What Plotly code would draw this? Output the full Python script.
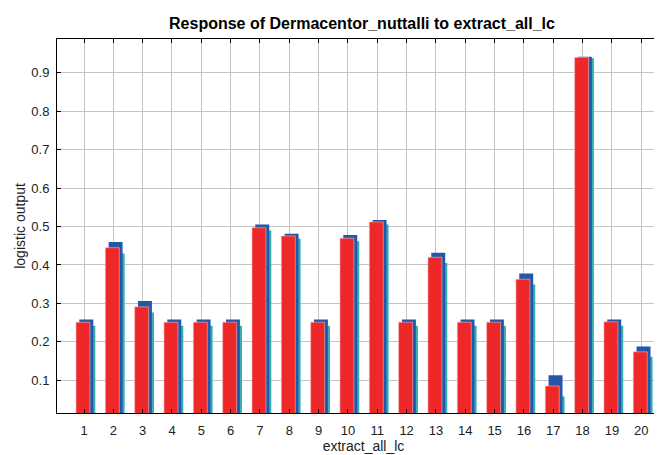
import plotly.graph_objects as go

categories = list(range(1, 21))
mean_vals = [0.251, 0.445, 0.291, 0.251, 0.251, 0.251, 0.497, 0.4755, 0.251, 0.4695,
             0.512, 0.251, 0.420, 0.251, 0.251, 0.363, 0.085, 0.940, 0.252, 0.174]
upper_vals = [0.258, 0.460, 0.306, 0.258, 0.258, 0.258, 0.505, 0.4815, 0.258, 0.478,
              0.517, 0.258, 0.432, 0.258, 0.258, 0.378, 0.113, 0.942, 0.258, 0.188]
lower_vals = [0.242, 0.430, 0.276, 0.242, 0.242, 0.242, 0.490, 0.4685, 0.242, 0.462,
              0.505, 0.242, 0.405, 0.242, 0.242, 0.349, 0.058, 0.938, 0.242, 0.161]
y_ticks = [0.1, 0.2, 0.3, 0.4, 0.5, 0.6, 0.7, 0.8, 0.9]

W = 0.476
fig = go.Figure()
fig.add_trace(go.Bar(x=categories, y=lower_vals, width=W, offset=-0.09,
                     marker=dict(color="#36AEB2", line=dict(width=0)), base=0))
fig.add_trace(go.Bar(x=categories, y=upper_vals, width=W, offset=-0.16,
                     marker=dict(color="#2457A8", line=dict(width=0)), base=0))
fig.add_trace(go.Bar(x=categories, y=mean_vals, width=W, offset=-0.272,
                     marker=dict(color="#EE2828", line=dict(width=0.6, color="#F7B5B5")), base=0))

font = "Liberation Sans, Arial, sans-serif"
fig.update_layout(
    width=662, height=455,
    margin=dict(l=49, r=0, t=31, b=50),
    barmode="overlay",
    showlegend=False,
    plot_bgcolor="white", paper_bgcolor="white",
    font=dict(family=font, size=13, color="#222"),
    title=dict(text="<b>Response of Dermacentor_nuttalli to extract_all_lc</b>",
               x=354 / 662, xanchor="center",
               y=1 - 15 / 455, yanchor="middle",
               font=dict(family=font, size=16, color="black")),
    xaxis=dict(range=[0.0795, 20.98], tickmode="array", tickvals=categories,
               ticktext=[str(c) for c in categories],
               showgrid=True, gridcolor="#C4C4C4", gridwidth=1,
               showline=True, linecolor="black", linewidth=1, mirror="ticks",
               ticks="inside", ticklen=4, tickcolor="black",
               tickfont=dict(size=13), ticklabelstandoff=5,
               title=dict(text="extract_all_lc", font=dict(size=14), standoff=4),
               zeroline=False),
    yaxis=dict(range=[0.0148, 0.988], tickmode="array", tickvals=y_ticks,
               ticktext=[str(v) for v in y_ticks],
               showgrid=True, gridcolor="#C4C4C4", gridwidth=1,
               showline=True, linecolor="black", linewidth=1, mirror="ticks",
               ticks="inside", ticklen=4, tickcolor="black",
               tickfont=dict(size=13), ticklabelstandoff=4,
               title=dict(text="logistic output", font=dict(size=14), standoff=2),
               zeroline=False),
)
fig.write_html("out.html")
